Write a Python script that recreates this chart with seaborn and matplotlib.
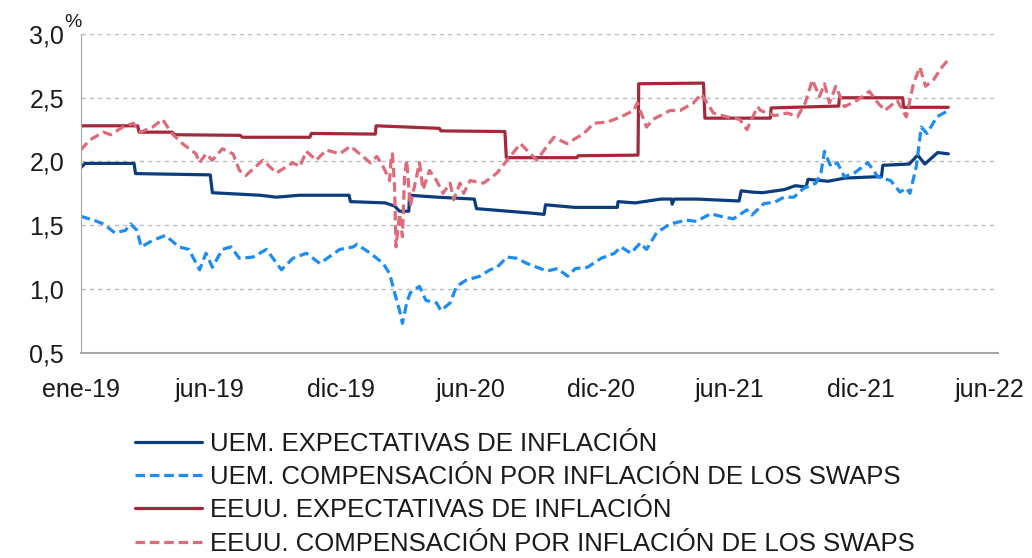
import pandas as pd
import matplotlib
matplotlib.use('Agg')
import matplotlib.pyplot as plt
import seaborn as sns

# UEM. Expectativas de inflación
uem_exp_dates = ['2019-01-01', '2019-01-07', '2019-03-17', '2019-03-19', '2019-07-02', '2019-07-05',
                 '2019-09-10', '2019-10-03', '2019-11-04', '2020-01-13', '2020-01-15', '2020-03-04',
                 '2020-03-17', '2020-03-24', '2020-04-06', '2020-04-07', '2020-05-16', '2020-07-07',
                 '2020-07-10', '2020-09-25', '2020-10-13', '2020-10-15', '2020-11-25', '2021-01-01',
                 '2021-01-24', '2021-01-25', '2021-02-18', '2021-03-26', '2021-04-10', '2021-04-11',
                 '2021-04-14', '2021-05-16', '2021-07-14', '2021-07-17', '2021-08-01', '2021-08-16',
                 '2021-09-16', '2021-10-01', '2021-10-16', '2021-10-19', '2021-11-16', '2021-12-10',
                 '2022-01-22', '2022-01-30', '2022-02-01', '2022-03-10', '2022-03-22', '2022-04-01',
                 '2022-04-19', '2022-05-04']
uem_exp = [1.95, 1.985, 1.985, 1.905, 1.895, 1.755,
           1.735, 1.72, 1.735, 1.735, 1.685, 1.675,
           1.65, 1.61, 1.61, 1.735, 1.72, 1.705,
           1.63, 1.595, 1.585, 1.66, 1.64, 1.64,
           1.64, 1.685, 1.675, 1.705, 1.705, 1.665,
           1.705, 1.705, 1.69, 1.77, 1.76, 1.755,
           1.78, 1.81, 1.80, 1.86, 1.845, 1.87,
           1.88, 1.88, 1.97, 1.98, 2.05, 1.98,
           2.07, 2.06]

# UEM. Compensación por inflación de los swaps
uem_swap_dates = ['2019-01-01', '2019-01-19', '2019-02-02', '2019-02-18', '2019-03-05', '2019-03-12',
                  '2019-03-21', '2019-03-27', '2019-04-12', '2019-04-30', '2019-05-19', '2019-06-02',
                  '2019-06-17', '2019-06-26', '2019-07-05', '2019-07-19', '2019-07-31', '2019-08-12',
                  '2019-08-31', '2019-09-19', '2019-10-10', '2019-10-26', '2019-11-14', '2019-12-03',
                  '2019-12-31', '2020-01-19', '2020-01-24', '2020-02-12', '2020-03-01', '2020-03-10',
                  '2020-03-17', '2020-03-24', '2020-03-28', '2020-04-03', '2020-04-08', '2020-04-21',
                  '2020-04-30', '2020-05-15', '2020-05-21', '2020-06-03', '2020-06-12', '2020-06-26',
                  '2020-07-15', '2020-07-29', '2020-08-08', '2020-08-22', '2020-09-05', '2020-09-19',
                  '2020-10-03', '2020-10-17', '2020-11-01', '2020-11-15', '2020-11-26', '2020-12-13',
                  '2021-01-01', '2021-01-20', '2021-01-29', '2021-02-12', '2021-02-25', '2021-03-06',
                  '2021-03-20', '2021-04-08', '2021-05-01', '2021-05-15', '2021-06-04', '2021-06-18',
                  '2021-07-06', '2021-07-25', '2021-08-01', '2021-08-18', '2021-09-02', '2021-09-15',
                  '2021-09-29', '2021-10-13', '2021-10-30', '2021-11-06', '2021-11-11', '2021-11-20',
                  '2021-11-29', '2021-12-09', '2021-12-23', '2022-01-11', '2022-01-25', '2022-02-12',
                  '2022-02-25', '2022-03-06', '2022-03-11', '2022-03-20', '2022-03-27', '2022-04-04',
                  '2022-04-18', '2022-05-04']
uem_swap = [1.57, 1.54, 1.51, 1.44, 1.46, 1.51,
            1.46, 1.33, 1.38, 1.42, 1.33, 1.31,
            1.15, 1.28, 1.17, 1.31, 1.33, 1.24,
            1.25, 1.31, 1.15, 1.24, 1.28, 1.20,
            1.31, 1.33, 1.35, 1.28, 1.20, 1.12,
            0.97, 0.83, 0.73, 0.89, 0.97, 1.02,
            0.91, 0.89, 0.83, 0.89, 1.02, 1.07,
            1.10, 1.15, 1.17, 1.25, 1.24, 1.20,
            1.17, 1.14, 1.16, 1.10, 1.16, 1.17,
            1.24, 1.28, 1.33, 1.28, 1.36, 1.31,
            1.44, 1.51, 1.54, 1.53, 1.59, 1.57,
            1.55, 1.62, 1.58, 1.67, 1.68, 1.72,
            1.72, 1.79, 1.83, 1.91, 2.08, 1.96,
            1.99, 1.88, 1.91, 1.99, 1.88, 1.85,
            1.76, 1.79, 1.75, 1.96, 2.27, 2.22,
            2.35, 2.40]

# EEUU. Expectativas de inflación
usa_exp_dates = ['2019-01-01', '2019-03-22', '2019-03-24', '2019-05-10', '2019-05-12', '2019-08-13',
                 '2019-08-16', '2019-11-19', '2019-11-21', '2020-02-19', '2020-02-20', '2020-05-19',
                 '2020-05-21', '2020-08-19', '2020-08-21', '2020-11-28', '2020-11-30', '2021-02-22',
                 '2021-02-23', '2021-05-25', '2021-05-27', '2021-08-27', '2021-08-28', '2021-12-01',
                 '2021-12-02', '2022-03-01', '2022-03-02', '2022-05-04']
usa_exp = [2.28, 2.28, 2.23, 2.23, 2.21, 2.205,
           2.19, 2.19, 2.22, 2.215, 2.28, 2.26,
           2.24, 2.235, 2.03, 2.03, 2.045, 2.05,
           2.61, 2.615, 2.34, 2.34, 2.42, 2.435,
           2.50, 2.50, 2.425, 2.425]

# EEUU. Compensación por inflación de los swaps
usa_swap_dates = ['2019-01-01', '2019-01-14', '2019-02-02', '2019-02-12', '2019-03-01', '2019-03-16',
                  '2019-03-26', '2019-04-12', '2019-04-26', '2019-05-09', '2019-05-24', '2019-06-12',
                  '2019-06-17', '2019-06-26', '2019-07-05', '2019-07-19', '2019-08-03', '2019-08-12',
                  '2019-08-21', '2019-09-14', '2019-10-03', '2019-10-26', '2019-11-05', '2019-11-14',
                  '2019-11-28', '2019-12-12', '2019-12-31', '2020-01-15', '2020-01-28', '2020-02-12',
                  '2020-02-21', '2020-03-01', '2020-03-10', '2020-03-12', '2020-03-14', '2020-03-17',
                  '2020-03-19', '2020-03-24', '2020-03-28', '2020-03-31', '2020-04-03', '2020-04-08',
                  '2020-04-21', '2020-04-26', '2020-05-05', '2020-05-15', '2020-05-24', '2020-06-03',
                  '2020-06-08', '2020-06-17', '2020-06-22', '2020-07-01', '2020-07-20', '2020-08-08',
                  '2020-08-22', '2020-09-10', '2020-09-24', '2020-10-03', '2020-10-17', '2020-10-27',
                  '2020-11-14', '2020-11-29', '2020-12-08', '2020-12-22', '2021-01-10', '2021-01-29',
                  '2021-02-16', '2021-02-21', '2021-03-06', '2021-03-15', '2021-04-08', '2021-04-22',
                  '2021-05-11', '2021-05-22', '2021-06-08', '2021-06-27', '2021-07-15', '2021-07-25',
                  '2021-08-09', '2021-08-13', '2021-09-02', '2021-09-20', '2021-10-04', '2021-10-15',
                  '2021-10-25', '2021-11-04', '2021-11-11', '2021-11-18', '2021-11-27', '2021-12-09',
                  '2021-12-27', '2022-01-13', '2022-01-25', '2022-02-04', '2022-02-21', '2022-03-06',
                  '2022-03-16', '2022-03-25', '2022-04-02', '2022-04-13', '2022-04-25', '2022-05-04']
usa_swap = [2.09, 2.17, 2.23, 2.21, 2.27, 2.30,
            2.23, 2.27, 2.33, 2.22, 2.14, 2.06,
            1.99, 2.06, 2.01, 2.10, 2.06, 1.93,
            1.89, 2.01, 1.91, 1.99, 1.96, 2.08,
            2.01, 2.09, 2.06, 2.12, 2.06, 1.99,
            2.04, 1.96, 1.85, 2.01, 2.06, 1.80,
            1.33, 1.59, 1.41, 1.88, 2.01, 1.65,
            1.99, 1.78, 1.93, 1.85, 1.75, 1.83,
            1.70, 1.83, 1.75, 1.85, 1.83, 1.91,
            2.01, 2.14, 2.06, 2.01, 2.12, 2.19,
            2.14, 2.19, 2.22, 2.30, 2.31, 2.35,
            2.40, 2.46, 2.27, 2.33, 2.40, 2.40,
            2.46, 2.53, 2.38, 2.35, 2.33, 2.25,
            2.43, 2.40, 2.36, 2.38, 2.35, 2.46,
            2.64, 2.51, 2.61, 2.46, 2.59, 2.43,
            2.48, 2.55, 2.46, 2.40, 2.48, 2.35,
            2.61, 2.74, 2.59, 2.64, 2.74, 2.80]

labels = ['UEM. EXPECTATIVAS DE INFLACIÓN',
          'UEM. COMPENSACIÓN POR INFLACIÓN DE LOS SWAPS',
          'EEUU. EXPECTATIVAS DE INFLACIÓN',
          'EEUU. COMPENSACIÓN POR INFLACIÓN DE LOS SWAPS']
tick_dates = ['2019-01-01', '2019-07-01', '2020-01-01', '2020-07-01',
              '2021-01-01', '2021-07-01', '2022-01-01', '2022-07-01']
tick_labels = ['ene-19', 'jun-19', 'dic-19', 'jun-20', 'dic-20', 'jun-21', 'dic-21', 'jun-22']
y_ticks = [0.5, 1.0, 1.5, 2.0, 2.5, 3.0]

sns.set_style('white')
plt.rcParams['font.family'] = ['Liberation Sans', 'DejaVu Sans']
text_color = '#1a1a1a'

fig = plt.figure(figsize=(10.32, 5.58), dpi=100)
ax = fig.add_axes([0.0782, 0.368, 0.889, 0.571])

series = [
    (uem_exp_dates, uem_exp, '#0b3d7c', '-'),
    (uem_swap_dates, uem_swap, '#1e8cf0', (0, (3, 1.5))),
    (usa_exp_dates, usa_exp, '#a3293a', '-'),
    (usa_swap_dates, usa_swap, '#de6b79', (0, (3, 1.5))),
]
for (d, v, c, ls), lab in zip(series, labels):
    sns.lineplot(x=pd.to_datetime(d), y=v, ax=ax, color=c, linewidth=2.3,
                 linestyle=ls, label=lab, estimator=None)

ax.set_xlim(pd.Timestamp('2019-01-01'), pd.Timestamp('2022-07-13'))
ax.set_ylim(0.5, 3.0)
ax.set_yticks(y_ticks)
ax.set_yticklabels([f'{t:.1f}'.replace('.', ',') for t in y_ticks], fontsize=18, color=text_color)
ax.set_xticks(pd.to_datetime(tick_dates))
ax.set_xticklabels(tick_labels, fontsize=18, color=text_color)
ax.set_xlabel('')
ax.set_ylabel('')

ax.yaxis.grid(True, linestyle=(0, (3, 3)), color='#bcbcbc', linewidth=1)
ax.xaxis.grid(False)
sns.despine(ax=ax, top=True, right=True)
ax.spines['left'].set_color('#a6a6a6')
ax.spines['bottom'].set_color('#a6a6a6')
ax.spines['bottom'].set_linewidth(1.5)
ax.tick_params(axis='x', direction='in', length=7, width=1, color='#a6a6a6', pad=18.5)
ax.tick_params(axis='y', length=0, pad=12)

ax.text(-0.018, 1.008, '%', transform=ax.transAxes, fontsize=14, color=text_color,
        ha='left', va='bottom')

leg = ax.legend(loc='upper left', bbox_to_anchor=(0.131, 0.226), bbox_transform=fig.transFigure,
                frameon=False, fontsize=18.5, handlelength=2.6, handletextpad=0.3,
                labelspacing=0.36, borderpad=0, borderaxespad=0)
for t in leg.get_texts():
    t.set_color(text_color)

fig.savefig('out.png', dpi=100)
